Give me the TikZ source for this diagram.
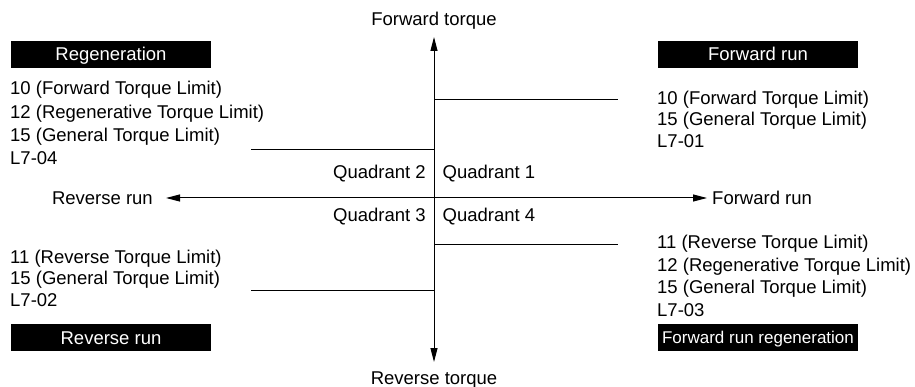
\documentclass[tikz,border=0pt]{standalone}
\usepackage{fontspec}
\setmainfont{Liberation Sans}
\usetikzlibrary{arrows.meta}
\begin{document}
\begin{tikzpicture}[x=1pt,y=-1pt,
  lbl/.style={inner sep=0pt,font=\fontsize{18.5}{22}\selectfont},
  blackbox/.style={fill=black,text=white,inner sep=0pt,minimum width=200pt,minimum height=27pt,
    text height=13pt,text depth=0pt,font=\fontsize{18.5}{22}\selectfont},
  axis/.style={line width=1pt,{Triangle[length=14pt,width=7pt]}-{Triangle[length=14pt,width=7pt]}},
  limit/.style={line width=1pt}]
\useasboundingbox (0,0) rectangle (915,387);

% axis labels
\node[lbl,anchor=base] (ft) at (434,26) {Forward torque};
\node[lbl,anchor=base] (rt) at (434,384) {Reverse torque};
\node[lbl,anchor=base east] (rr) at (153,204.5) {Reverse run};
\node[lbl,anchor=base west] (fr) at (712,204.5) {Forward run};

% axes
\draw[axis] ([yshift=-11pt]ft.base) -- ([yshift=22pt]rt.base);
\draw[axis] ([xshift=13pt,yshift=6.5pt]rr.base east) -- ([xshift=-5pt,yshift=6.5pt]fr.base west);

% limit lines
\draw[limit] (434,100) -- (618,100);
\draw[limit] (251,150) -- (434,150);
\draw[limit] (251,290) -- (434,290);
\draw[limit] (434,245) -- (618,245);

% quadrant labels
\node[lbl,anchor=base east] (q2) at (426,178.5) {Quadrant 2};
\node[lbl,anchor=base west] (q1) at (442.5,178.5) {Quadrant 1};
\node[lbl,anchor=base east] (q3) at (426,221.5) {Quadrant 3};
\node[lbl,anchor=base west] (q4) at (442.5,221.5) {Quadrant 4};

% black title boxes
\node[blackbox] (bRegen) at (111,54.5) {Regeneration};
\node[blackbox] (bFwd) at (758,54.5) {Forward run};
\node[blackbox] (bRev) at (111,337.5) {Reverse run};
\node[blackbox,font=\fontsize{17}{21}\selectfont] (bFwdRegen) at (758,337) {Forward run regeneration};

% top-left list
\node[lbl,anchor=base west] (tl1) at (10,95) {10 (Forward Torque Limit)};
\node[lbl,anchor=base west] (tl2) at (10,118.5) {12 (Regenerative Torque Limit)};
\node[lbl,anchor=base west] (tl3) at (10,141.5) {15 (General Torque Limit)};
\node[lbl,anchor=base west] (tl4) at (10,164.5) {L7-04};

% top-right list
\node[lbl,anchor=base west] (tr1) at (657,104.5) {10 (Forward Torque Limit)};
\node[lbl,anchor=base west] (tr2) at (657,126) {15 (General Torque Limit)};
\node[lbl,anchor=base west] (tr3) at (657,147.5) {L7-01};

% bottom-left list
\node[lbl,anchor=base west] (bl1) at (10,263) {11 (Reverse Torque Limit)};
\node[lbl,anchor=base west] (bl2) at (10,284.5) {15 (General Torque Limit)};
\node[lbl,anchor=base west] (bl3) at (10,306) {L7-02};

% bottom-right list
\node[lbl,anchor=base west] (br1) at (657,249) {11 (Reverse Torque Limit)};
\node[lbl,anchor=base west] (br2) at (657,271.5) {12 (Regenerative Torque Limit)};
\node[lbl,anchor=base west] (br3) at (657,294) {15 (General Torque Limit)};
\node[lbl,anchor=base west] (br4) at (657,316) {L7-03};
\end{tikzpicture}
\end{document}
